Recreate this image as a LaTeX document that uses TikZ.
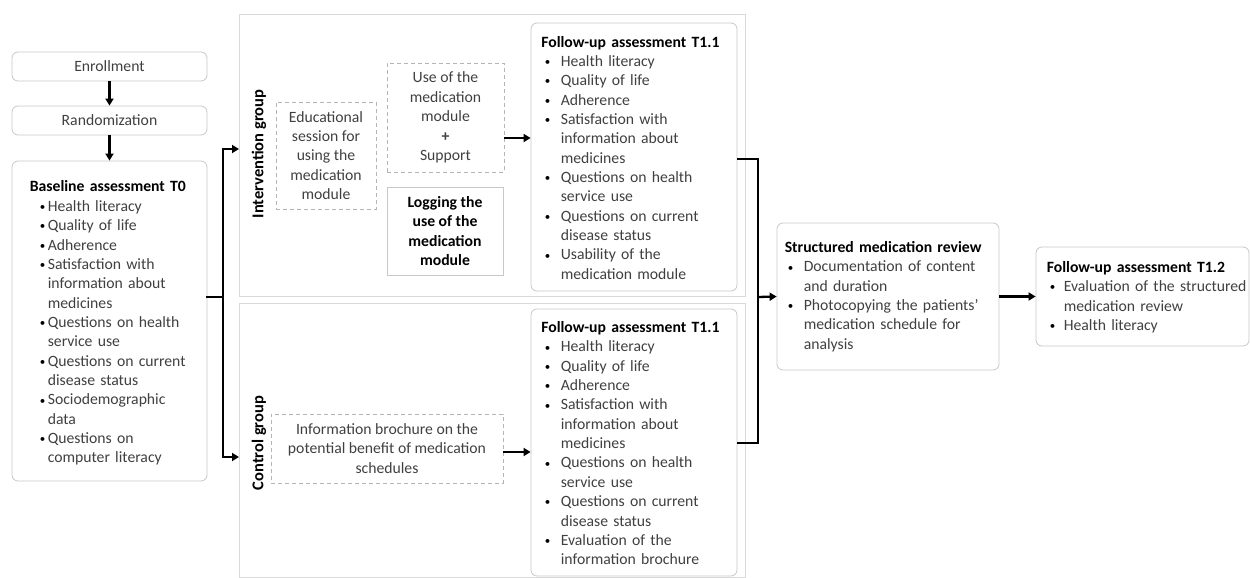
\documentclass[tikz,border=0pt]{standalone}
\usepackage{fontspec}
\setmainfont{Carlito}
\usetikzlibrary{arrows.meta}
\definecolor{txt}{HTML}{404040}
\definecolor{bord}{HTML}{C8C8C8}
\definecolor{grp}{HTML}{D9D9D9}
\definecolor{dsh}{HTML}{B4B4B4}
\newlength\bind \newlength\tind
\newcommand\blt{\raisebox{0.8pt}{\fontsize{11}{11}\selectfont\textcolor{black}{\textbullet}}}
\newcommand\itm[1]{\par\noindent\hangindent=\tind\hangafter=1\makebox[\tind][l]{\hspace{\bind}\blt}#1\par}
\newcommand\ttl[1]{\par\noindent{\bfseries\color{black}#1}\par}
\tikzset{
  frame/.style={draw=bord, rounded corners=6pt, fill=white, line width=0.8pt, inner sep=0pt},
  lst/.style={text=txt, align=left, font=\fontsize{15.7}{19.35}\selectfont, inner sep=0pt, anchor=west},
  ctext/.style={frame, text=txt, align=center, font=\fontsize{15.7}{19.35}\selectfont},
  grpbox/.style={draw=grp, line width=0.8pt, inner sep=0pt},
  dbox/.style={draw=dsh, dashed, dash pattern=on 4pt off 3pt, line width=0.8pt, text=txt, align=center,
    font=\fontsize{15.7}{19.35}\selectfont, inner sep=0pt},
  sbox/.style={draw=bord, line width=0.8pt, text=black, align=center,
    font=\fontsize{15.7}{19.35}\selectfont\bfseries, inner sep=0pt},
  glab/.style={rotate=90, font=\fontsize{16.5}{18}\selectfont\bfseries, text=black, inner sep=0pt},
  conn/.style={line width=2.3pt, draw=black},
  arr/.style={conn, -{Triangle[length=7pt,width=8pt]}},
}
\begin{document}
\begin{tikzpicture}[x=1pt,y=-1pt]
\useasboundingbox (0,0) rectangle (1250,578);
% group frames
\node[grpbox, minimum width=506pt, minimum height=282pt] (intgrp) at (492,155) {};
\node[grpbox, minimum width=506pt, minimum height=274pt] (ctlgrp) at (492,440) {};
% left column
\node[ctext, minimum width=195pt, minimum height=29pt] (enroll) at (109.5,66.5) {Enrollment};
\node[ctext, minimum width=195pt, minimum height=29pt] (rand) at (109.5,120.5) {Randomization};
\node[frame, minimum width=195pt, minimum height=320pt] (base) at (109.5,321) {};
\node[lst, text width=180pt] (baset) at ([xshift=18pt,yshift=2pt]base.west) {%
\setlength\bind{10pt}\setlength\tind{18pt}%
\ttl{Baseline assessment T0}
\itm{Health literacy}
\itm{Quality of life}
\itm{Adherence}
\itm{Satisfaction with\newline information about\newline medicines}
\itm{Questions on health\newline service use}
\itm{Questions on current\newline disease status}
\itm{Sociodemographic\newline data}
\itm{Questions on\newline computer literacy}};
% group labels
\node[glab] (intlab) at (259,154) {Intervention group};
\node[glab] (ctllab) at (259,443) {Control group};
% intervention contents
\node[dbox, minimum width=100pt, minimum height=107pt] (edu) at (326,155.5) {Educational\\session for\\using the\\medication\\module};
\node[dbox, minimum width=117pt, minimum height=109pt] (use) at (445.5,117.5) {Use of the\\medication\\module\\\textbf{+}\\Support};
\node[sbox, minimum width=116pt, minimum height=88pt] (log) at (445,231) {Logging the\\use of the\\medication\\module};
\node[frame, minimum width=206pt, minimum height=268pt] (fi) at (634,157) {};
\node[lst, text width=200pt] (fit) at ([xshift=10.5pt,yshift=3.5pt]fi.west) {%
\setlength\bind{3.5pt}\setlength\tind{19.5pt}%
\ttl{Follow-up assessment T1.1}
\itm{Health literacy}
\itm{Quality of life}
\itm{Adherence}
\itm{Satisfaction with\newline information about\newline medicines}
\itm{Questions on health\newline service use}
\itm{Questions on current\newline disease status}
\itm{Usability of the\newline medication module}};
% control contents
\node[dbox, minimum width=232pt, minimum height=69pt] (bro) at (387,448.5) {Information brochure on the\\potential benefit of medication\\schedules};
\node[frame, minimum width=206pt, minimum height=267pt] (fc) at (634,442.5) {};
\node[lst, text width=200pt] (fct) at ([xshift=10.5pt,yshift=3.5pt]fc.west) {%
\setlength\bind{3.5pt}\setlength\tind{19.5pt}%
\ttl{Follow-up assessment T1.1}
\itm{Health literacy}
\itm{Quality of life}
\itm{Adherence}
\itm{Satisfaction with\newline information about\newline medicines}
\itm{Questions on health\newline service use}
\itm{Questions on current\newline disease status}
\itm{Evaluation of the\newline information brochure}};
% right part
\node[frame, minimum width=222pt, minimum height=147pt] (rev) at (888,296.5) {};
\node[lst, text width=220pt] (revt) at ([xshift=8pt,yshift=4pt]rev.west) {%
\setlength\bind{3pt}\setlength\tind{19pt}%
\ttl{Structured medication review}
\itm{Documentation of content\newline and duration}
\itm{Photocopying the patients’\newline medication schedule for\newline analysis}};
\node[frame, minimum width=213pt, minimum height=99pt] (t12) at (1142.5,296.5) {};
\node[lst, text width=210pt] (t12t) at ([xshift=11pt,yshift=3.5pt]t12.west) {%
\setlength\bind{3pt}\setlength\tind{17pt}%
\ttl{Follow-up assessment T1.2}
\itm{Evaluation of the structured\newline medication review}
\itm{Health literacy}};
% helper coordinates
\coordinate (bout) at (206,297);
\coordinate (bj) at (223,297);
\coordinate (intin) at (239,149);
\coordinate (ctlin) at (239,457);
\coordinate (y138) at (0,138);
\coordinate (y452) at (0,452);
\coordinate (y159) at (0,159);
\coordinate (y443) at (0,443);
\coordinate (jx) at (758,297);
% connectors
\draw[arr] (enroll) -- (rand);
\draw[arr] (rand) -- (base);
\draw[conn] (bout) -- (bj);
\draw[arr] (bj) |- (intin);
\draw[arr] (bj) |- (ctlin);
\draw[arr] (use.east |- y138) -- (fi.west |- y138);
\draw[arr] (bro.east |- y452) -- (fc.west |- y452);
\draw[conn] (fi.east |- y159) -| (jx);
\draw[conn] (fc.east |- y443) -| (jx);
\draw[arr] (jx) -- (rev.west);
\draw[arr] (rev) -- (t12);
\end{tikzpicture}
\end{document}
